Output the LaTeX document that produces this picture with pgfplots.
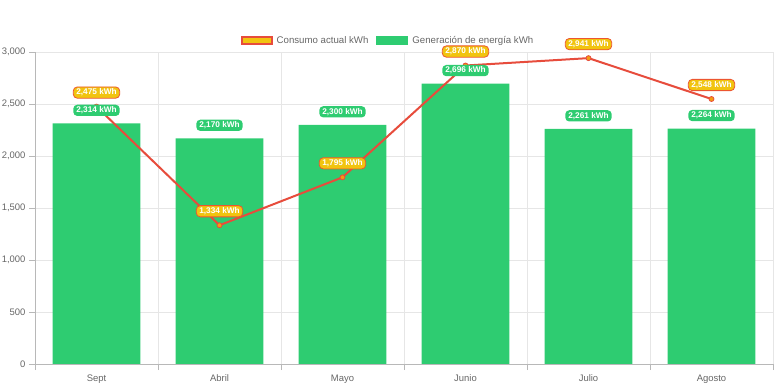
\documentclass[border=0pt]{standalone}
\usepackage{pgfplots}
\pgfplotsset{compat=1.18}
\usepackage{fontspec}
\setmainfont{Liberation Sans}
\definecolor{bargreen}{HTML}{2ECC71}
\definecolor{linered}{HTML}{E74C3C}
\definecolor{lblyellow}{HTML}{F1C40F}
\definecolor{mkorange}{HTML}{F39C12}
\definecolor{tickgray}{HTML}{666666}
\definecolor{gridgray}{HTML}{E6E6E6}
\begin{document}
\begin{tikzpicture}
\path[use as bounding box] (0,0) rectangle (776bp,388bp);
\begin{axis}[
  at={(35bp,24bp)}, anchor=south west,
  scale only axis, width=738bp, height=312bp,
  xmin=-0.5, xmax=5.5, ymin=0, ymax=3000,
  clip=false,
  xtick={0,...,5}, xticklabels={Sept,Abril,Mayo,Junio,Julio,Agosto},
  minor xtick={-0.5,0.5,1.5,2.5,3.5,4.5,5.5},
  ytick={0,500,...,3000},
  xmajorgrids=false, xminorgrids=true, ymajorgrids=true,
  grid style={gridgray, line width=0.8bp},
  minor grid style={gridgray, line width=0.8bp},
  major x tick style={draw=none},
  tick align=outside,
  major tick length=6bp, minor tick length=6bp,
  tick style={gridgray!80!black, line width=0.8bp},
  minor tick style={gridgray!80!black, line width=0.8bp},
  axis line style={gridgray!80!black, line width=0.8bp},
  axis x line*=bottom, axis y line*=left,
  ticklabel style={font=\fontsize{9.5}{11}\selectfont, text=tickgray},
  xticklabel style={yshift=-1.5bp},
  /pgf/number format/.cd, 1000 sep={,}, assume math mode=true, /pgfplots/.cd,
  legend columns=2, reverse legend,
  legend style={at={(0.5,1)}, anchor=south, yshift=3bp, xshift=-16bp, draw=none, fill=none,
    font=\fontsize{9.7}{11}\selectfont, text=tickgray,
    /tikz/every odd column/.append style={column sep=2bp},
    /tikz/every even column/.append style={column sep=6bp}},
]
\addplot[ybar, bar width=0.715, fill=bargreen, draw=none,
  legend image code/.code={\fill[bargreen] (0bp,-4.5bp) rectangle (32bp,5bp);}]
  coordinates {(0,2314) (1,2170) (2,2300) (3,2696) (4,2261) (5,2264)};
\addlegendentry{Generación de energía kWh}
\addplot[linered, line width=2bp, mark=*, mark size=2.5bp,
  mark options={fill=mkorange, draw=linered, line width=0.8bp},
  legend image code/.code={\filldraw[draw=linered, fill=lblyellow, line width=2bp] (1bp,-3.5bp) rectangle (31bp,4bp);}]
  coordinates {(0,2475) (1,1334) (2,1795) (3,2870) (4,2941) (5,2548)};
\addlegendentry{Consumo actual kWh}
% labels
\addplot[draw=none, mark=none, forget plot,
  nodes near coords={\pgfmathprintnumber{\pgfplotspointmeta}~kWh},
  nodes near coords style={fill=bargreen, text=white,
    font=\bfseries\fontsize{8.3}{9}\selectfont, rounded corners=4bp,
    inner xsep=3bp, inner ysep=2bp, anchor=center, yshift=13bp}]
  coordinates {(0,2314) (1,2170) (2,2300) (3,2696) (4,2261) (5,2264)};
\addplot[draw=none, mark=none, forget plot,
  nodes near coords={\pgfmathprintnumber{\pgfplotspointmeta}~kWh},
  nodes near coords style={fill=lblyellow, draw=linered!80!orange, line width=0.8bp, text=white,
    font=\bfseries\fontsize{8.3}{9}\selectfont, rounded corners=4bp,
    inner xsep=3bp, inner ysep=2bp, anchor=center, yshift=14bp}]
  coordinates {(0,2475) (1,1334) (2,1795) (3,2870) (4,2941) (5,2548)};
\end{axis}
\end{tikzpicture}
\end{document}
